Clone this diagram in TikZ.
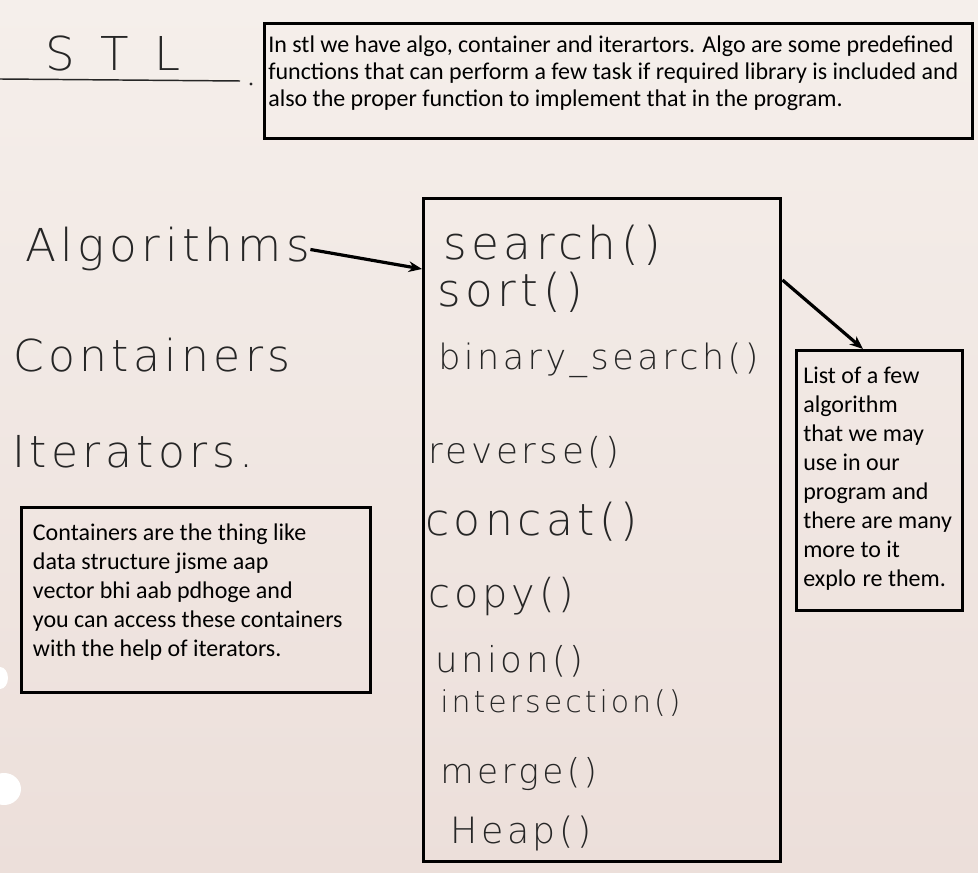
\documentclass[tikz,border=0pt]{standalone}
\usepackage{fontspec}
\setmainfont{Carlito}
\newfontfamily\hand[LetterSpace=10]{DejaVu Sans ExtraLight}
\usetikzlibrary{arrows.meta,positioning}
\definecolor{bgtop}{HTML}{F5EFEB}
\definecolor{bgbot}{HTML}{ECDFDA}
\definecolor{ink}{HTML}{262626}
\tikzset{
  box/.style={draw=black,line width=2.6pt,inner sep=0pt,anchor=north west},
  note/.style={inner sep=0pt,align=left,font=\fontsize{18}{21.75}\selectfont},
  hand/.style={inner sep=0pt,anchor=base west,text=ink,font=\hand\fontsize{#1}{#1}\selectfont},
  arr/.style={-{Stealth[length=10pt,width=8pt]},line width=2.4pt},
}

\begin{document}
\begin{tikzpicture}[x=0.75pt,y=-0.75pt]
\shade[top color=bgtop,bottom color=bgbot] (0,0) rectangle (978,873);
\useasboundingbox (0,0) rectangle (978,873);
\fill[white] (0,678) ellipse (8 and 11);
\fill[white] (4,789) ellipse (17 and 16);

% title
\node[hand=35] (stl) at (45,71) {S\hspace{19pt}T\hspace{19pt}L};
\draw[ink,line width=1.1pt] (0,79) -- (240,81);
\fill[ink] (251,84) circle (1.6);

% intro
\node[box,minimum width=531pt,minimum height=86pt] (intro) at (263,22) {};
\node[note,font=\fontsize{18}{20.25}\selectfont,below right=10pt and 3.75pt of intro.north west] (introtxt)
  {In stl we have algo, container and iterartors. Algo are some predefined\\
   functions that can perform a few task if required library is included and\\
   also the proper function to implement that in the program.};

% the three parts
\node[hand=34] (algo) at (25,262) {Algorithms};
\node[hand=33] (cont) at (13,372) {Containers};
\node[hand=33] (iter) at (12,467) {Iterators.};

% algorithm list
\node[box,minimum width=267.75pt,minimum height=497pt] (list) at (422,197) {};
\foreach \fn/\xx/\yy/\sz [count=\i] in {{search()}/443/260/34,{sort()}/437/307/34,{binary\_search()}/438/370/26.2,
  {reverse()}/428/463/26.8,{concat()}/425/535/33,{copy()}/428/607/29.9,{union()}/435/672/26.7,
  {intersection()}/440/712/22.5,{merge()}/440/783/25.7,{Heap()}/450/843/27.2}
  \node[hand=\sz] (fn\i) at (\xx,\yy) {\fn};

\draw[arr] (algo.east) -- (list.west |- 0,269);

% right note
\node[box,minimum width=124.5pt,minimum height=195pt] (more) at (795,349) {};
\node[note,below right=13.5pt and 6pt of more.north west] (moretxt)
  {List of a few\\algorithm\\that we may\\use in our\\program and\\there are many\\more to it\\explo\hspace{5pt}re them.};
\draw[arr] (list.east |- 0,280) -- (more.north -| 863,0);

% containers note
\node[box,minimum width=261.75pt,minimum height=138.5pt] (contbox) at (20,506) {};
\node[note,below right=13.5pt and 9.5pt of contbox.north west] (conttxt)
  {Containers are the thing like\\data structure jisme aap\\vector bhi aab pdhoge and\\you can access these containers\\with the help of iterators.};
\end{tikzpicture}
\end{document}
